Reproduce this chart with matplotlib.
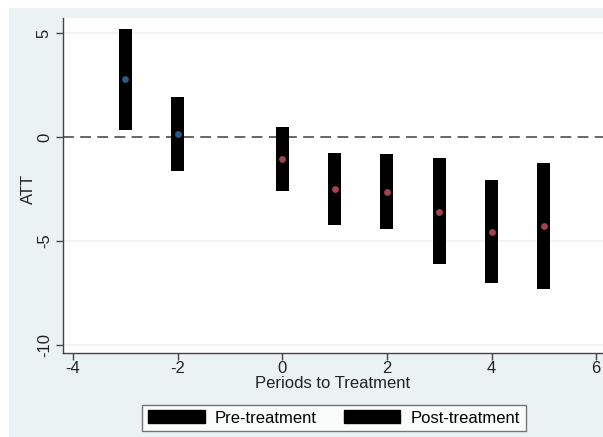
import matplotlib
matplotlib.use("Agg")
import matplotlib.pyplot as plt
from matplotlib.patches import Patch, Rectangle

plt.rcParams['font.family'] = ['Liberation Sans', 'DejaVu Sans']
plt.rcParams['axes.unicode_minus'] = False

# event-study estimates: period, point estimate, CI bounds
pre_periods = [-3, -2]
pre_att = [2.78, 0.14]
pre_lo = [0.34, -1.63]
pre_hi = [5.19, 1.92]

post_periods = [0, 1, 2, 3, 4, 5]
post_att = [-1.06, -2.50, -2.64, -3.59, -4.55, -4.26]
post_lo = [-2.60, -4.23, -4.42, -6.09, -7.00, -7.31]
post_hi = [0.48, -0.77, -0.84, -1.03, -2.07, -1.24]

xticks = [-4, -2, 0, 2, 4, 6]
yticks = [-10, -5, 0, 5]

W, H = 603, 437
fig = plt.figure(figsize=(W / 100, H / 100), dpi=100)
fig.patch.set_facecolor('white')
# stata-style graph region
fig.add_artist(Rectangle((9 / W, 0), 1 - 9 / W, 1 - 8 / H, transform=fig.transFigure,
                         facecolor='#eaf2f3', edgecolor='none', zorder=0))

ax = fig.add_axes([63 / W, 1 - 353 / H, (603 - 63) / W, (353 - 18) / H])
ax.set_facecolor('white')
ax.set_xlim(-4.19, 6.13)
ax.set_ylim(-10.38, 5.72)

for y in [5, -5, -10]:
    ax.axhline(y, color='#eef2f3', lw=1.2, zorder=0)
ax.axhline(0, color='#5a5a5a', lw=1.3, dashes=(6, 3.5), zorder=1)

bw = 0.25
ax.bar(pre_periods, [h - l for h, l in zip(pre_hi, pre_lo)], bottom=pre_lo,
       width=bw, color='black', zorder=2)
ax.bar(post_periods, [h - l for h, l in zip(post_hi, post_lo)], bottom=post_lo,
       width=bw, color='black', zorder=2)
ax.scatter(pre_periods, pre_att, s=24, color='#2a5a88', zorder=3, linewidths=0)
ax.scatter(post_periods, post_att, s=24, color='#a3444c', zorder=3, linewidths=0)

for s in ['top', 'right']:
    ax.spines[s].set_visible(False)
for s in ['left', 'bottom']:
    ax.spines[s].set_color('#444444')
    ax.spines[s].set_linewidth(1.0)

fs = 12
ax.set_xticks(xticks)
ax.set_yticks(yticks)
ax.tick_params(axis='both', direction='out', length=5, width=1, color='#444444',
               labelsize=fs, labelcolor='#222222')
ax.tick_params(axis='x', pad=1)
ax.tick_params(axis='y', pad=3)
plt.setp(ax.get_yticklabels(), rotation=90, va='center')

ax.set_xlabel('Periods to Treatment', fontsize=fs, color='#222222', labelpad=0)
ax.set_ylabel('ATT', fontsize=fs, color='#222222')
ax.yaxis.set_label_coords(-0.05, 0.49)

handles = [Patch(facecolor='black', edgecolor='black', label='Pre-treatment'),
           Patch(facecolor='black', edgecolor='black', label='Post-treatment')]
leg = fig.legend(handles=handles, loc='center', bbox_to_anchor=(334 / W, 1 - 418 / H),
                 ncol=2, fontsize=fs, frameon=True, fancybox=False,
                 handlelength=3.4, handleheight=0.8, columnspacing=1.6,
                 handletextpad=0.6, borderpad=0.35, borderaxespad=0)
leg.get_frame().set_edgecolor('#555555')
leg.get_frame().set_linewidth(1.0)

fig.savefig('out.png', dpi=100)
